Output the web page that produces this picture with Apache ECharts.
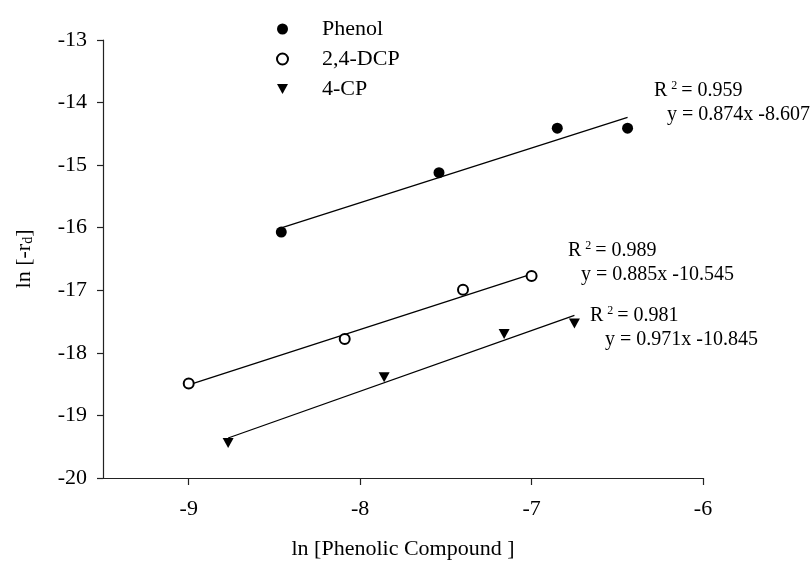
<!DOCTYPE html>
<html>
<head>
<meta charset="utf-8">
<script src="https://cdn.jsdelivr.net/npm/echarts@6/dist/echarts.min.js"></script>
<style>
  html, body { margin: 0; padding: 0; background: #fff; }
  #chart { width: 810px; height: 565px; }
</style>
</head>
<body>
<div id="chart"></div>
<script>
// data
var seriesNames = ["Phenol", "2,4-DCP", "4-CP"];
var phenolX = [-8.46, -7.54, -6.85, -6.44];
var phenolY = [-16.07, -15.12, -14.41, -14.41];
var dcpX = [-9.00, -8.09, -7.40, -7.00];
var dcpY = [-18.49, -17.78, -16.99, -16.77];
var cpX = [-8.77, -7.86, -7.16, -6.75];
var cpY = [-19.44, -18.39, -17.70, -17.53];

// fit lines as printed on the chart: [slope, intercept, r2]
var phenolFit = [0.874, -8.607, 0.959];
var dcpFit = [0.885, -10.545, 0.989];
var cpFit = [0.971, -10.845, 0.981];

var xTicks = [-9, -8, -7, -6];
var yTicks = [-20, -19, -18, -17, -16, -15, -14, -13];

var FONT = "Liberation Serif";

function pairs(xs, ys) {
  return xs.map(function (x, i) { return [x, ys[i]]; });
}

function fitLine(xs, fit) {
  var a = Math.min.apply(null, xs), b = Math.max.apply(null, xs);
  return [[a, fit[0] * a + fit[1]], [b, fit[0] * b + fit[1]]];
}

function lineSeries(xs, fit) {
  return {
    type: "line",
    data: fitLine(xs, fit),
    symbol: "none",
    silent: true,
    lineStyle: { color: "#000", width: 1.3 },
    z: 1
  };
}

function fmt(v) {
  return v < 0 ? "-" + Math.abs(v).toFixed(3) : v.toFixed(3);
}

var richStyle = {
  a: { fontFamily: FONT, fontSize: 20, color: "#000" },
  sup: { fontFamily: FONT, fontSize: 12, color: "#000", verticalAlign: "top", padding: [0, 4, 10, 4] }
};

function note(x, y, fit, dx) {
  return [
    {
      type: "text", x: x, y: y,
      style: { text: "{a|R}{sup|2}{a|= " + fit[2].toFixed(3) + "}", rich: richStyle, verticalAlign: "middle" }
    },
    {
      type: "text", x: x + dx, y: y + 24,
      style: {
        text: "y = " + fit[0].toFixed(3) + "x " + fmt(fit[1]),
        fontFamily: FONT, fontSize: 20, fill: "#000", verticalAlign: "middle"
      }
    }
  ];
}

var triDown = "path://M0,0L10,0L5,9Z";

var chart = echarts.init(document.getElementById("chart"));
chart.setOption({
  backgroundColor: "#fff",
  animation: false,
  grid: { left: 103, right: 107, top: 40, bottom: 86 },
  legend: {
    data: seriesNames,
    orient: "vertical",
    left: 271,
    top: 13,
    itemWidth: 11,
    itemHeight: 11,
    itemGap: 8,
    textStyle: { fontFamily: FONT, fontSize: 22, color: "#000", lineHeight: 22, padding: [0, 0, 0, 29] }
  },
  xAxis: {
    type: "value",
    min: -9.5,
    max: -6,
    name: "ln [Phenolic Compound ]",
    nameLocation: "middle",
    nameGap: 60,
    nameTextStyle: { fontFamily: FONT, fontSize: 22, color: "#000" },
    splitLine: { show: false },
    axisLine: { lineStyle: { color: "#222", width: 1.2 } },
    axisTick: { show: true, length: 7, customValues: xTicks, lineStyle: { color: "#222", width: 1.2 } },
    axisLabel: { customValues: xTicks, margin: 20, fontFamily: FONT, fontSize: 22, color: "#000" }
  },
  yAxis: {
    type: "value",
    min: -20,
    max: -13,
    interval: 1,
    name: "{a|ln [-r}{sub|d}{a|]}",
    nameLocation: "middle",
    nameGap: 68,
    nameTextStyle: {
      rich: {
        a: { fontFamily: FONT, fontSize: 22, color: "#000" },
        sub: { fontFamily: FONT, fontSize: 14, color: "#000", verticalAlign: "bottom", padding: [6, 0, 0, 0] }
      }
    },
    splitLine: { show: false },
    axisLine: { show: true, lineStyle: { color: "#222", width: 1.2 } },
    axisTick: { show: true, length: 6, customValues: yTicks, lineStyle: { color: "#222", width: 1.2 } },
    axisLabel: { customValues: yTicks, margin: 16, fontFamily: FONT, fontSize: 22, color: "#000" }
  },
  series: [
    {
      name: seriesNames[0], type: "scatter", data: pairs(phenolX, phenolY),
      symbol: "circle", symbolSize: 11,
      itemStyle: { color: "#000", opacity: 1 }, z: 3
    },
    {
      name: seriesNames[1], type: "scatter", data: pairs(dcpX, dcpY),
      symbol: "emptyCircle", symbolSize: 10,
      itemStyle: { color: "#000", borderColor: "#000", borderWidth: 1.2, opacity: 1 }, z: 3
    },
    {
      name: seriesNames[2], type: "scatter", data: pairs(cpX, cpY),
      symbol: triDown, symbolSize: [11, 10],
      itemStyle: { color: "#000", opacity: 1 }, z: 3
    },
    lineSeries(phenolX, phenolFit),
    lineSeries(dcpX, dcpFit),
    lineSeries(cpX, cpFit)
  ],
  graphic: [].concat(
    note(654, 91, phenolFit, 13),
    note(568, 251, dcpFit, 13),
    note(590, 316, cpFit, 15)
  )
});
</script>
</body>
</html>
